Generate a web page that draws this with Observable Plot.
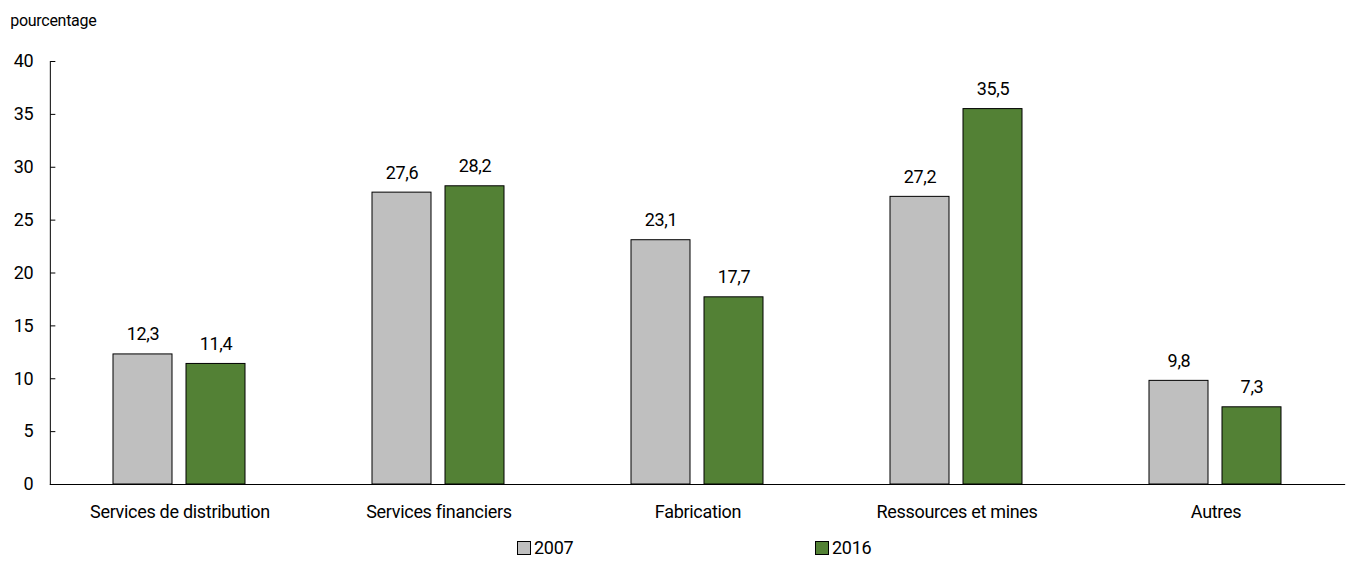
<!DOCTYPE html>
<html><head><meta charset="utf-8">
<script src="https://cdn.jsdelivr.net/npm/d3@7"></script>
<script src="https://cdn.jsdelivr.net/npm/@observablehq/plot@0.6"></script>
<style>
body{margin:0;background:#fff;font-family:Roboto,sans-serif;}
svg text{letter-spacing:-0.3px;}
#legend{position:relative;width:1351px;height:31px;font-size:18px;color:#000;letter-spacing:-0.3px;}
.item{position:absolute;top:7px;display:flex;align-items:center;}
.sw{width:12px;height:12px;border:1px solid #000;margin-right:3px;}
</style></head>
<body>
<div id="chart"></div>
<div id="legend"></div>
<script>
const categories = ["Services de distribution","Services financiers","Fabrication","Ressources et mines","Autres"];
const years = ["2007","2016"];
const values2007 = [12.3, 27.6, 23.1, 27.2, 9.8];
const values2016 = [11.4, 28.2, 17.7, 35.5, 7.3];
const colors = ["#BFBFBF","#538135"];
const yTicks = [0,5,10,15,20,25,30,35,40];

const data = [];
categories.forEach((c,i)=>{
  data.push({cat:c, year:years[0], v:values2007[i]});
  data.push({cat:c, year:years[1], v:values2016[i]});
});
const fmt = v => v.toFixed(1).replace(".", ",");

const W = 1351, ML = 49, MR = 5;
const padIn = 0.487, padOut = padIn / 2;
const step = (W - ML - MR) / categories.length;
const half = step * padOut; // distance from facet edge to neighbouring band edge

// small horizontal tick pointing right, used for the y-axis ticks
const tickSymbol = {draw(ctx){ ctx.moveTo(0, 0); ctx.lineTo(5, 0); }};

const chart = Plot.plot({
  width:W, height:530,
  marginLeft:ML, marginRight:MR, marginTop:61, marginBottom:46,
  style:{fontFamily:'Roboto,sans-serif', fontSize:"18px", color:"#000"},
  fx:{domain:categories, paddingInner:padIn, paddingOuter:padOut, label:null},
  x:{domain:years, paddingInner:0.19, paddingOuter:0, axis:null},
  y:{domain:[0,40], ticks:yTicks, label:null, axis:null},
  color:{domain:years, range:colors},
  marks:[
    Plot.barY(data,{fx:"cat", x:"year", y:"v", fill:"year", stroke:"#000", strokeWidth:1}),
    Plot.text(data,{fx:"cat", x:"year", y:"v", text:d=>fmt(d.v), lineAnchor:"bottom", dy:-14, fontSize:18}),
    Plot.axisFx({anchor:"bottom", tickSize:0, tickPadding:21, fontSize:18, label:null}),
    Plot.axisY(yTicks,{anchor:"left", tickSize:0, tickPadding:17, fontSize:18, label:null, facetAnchor:"left", dx:-half}),
    Plot.dot(yTicks,{y:d=>d, frameAnchor:"left", dx:-half, symbol:tickSymbol, fill:"none", stroke:"#000", strokeWidth:1, facetAnchor:"left"}),
    Plot.frame({anchor:"left", stroke:"#000", facetAnchor:"left", dx:-half}),
    Plot.ruleY([0],{stroke:"#000", insetLeft:-half, insetRight:-half}),
    Plot.text(["pourcentage"],{frameAnchor:"top-left", dx:-40-half, dy:-47, textAnchor:"start", fontSize:16, facetAnchor:"left"})
  ]
});
document.getElementById("chart").appendChild(chart);

const legend = document.getElementById("legend");
const lpos = [517, 815];
years.forEach((y,i)=>{
  const it = document.createElement("div");
  it.className="item"; it.style.left = lpos[i]+"px";
  it.innerHTML = `<div class="sw" style="background:${colors[i]}"></div><span>${y}</span>`;
  legend.appendChild(it);
});
</script>
</body></html>
